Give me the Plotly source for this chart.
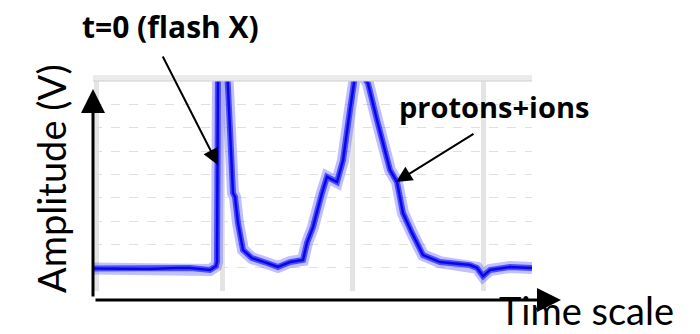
import plotly.graph_objects as go

# Oscilloscope trace (arbitrary time units, amplitude in grid divisions)
time = [0, 27, 57, 82, 97, 117, 123, 124, 125, 134, 140, 142, 145, 150, 159, 174, 185, 197, 210, 214, 220,
        229, 234, 244, 250, 257, 262, 269, 275, 284, 290, 297, 304, 310, 319, 330, 347, 377, 384, 390, 397,
        417, 439]
amplitude = [0.96, 0.96, 0.94, 0.99, 0.99, 0.9, 1.07, 1.25, 9.6, 9.6, 4.2, 4.03, 2.91, 1.76, 1.41, 1.2, 1.03,
             1.24, 1.33, 2.06, 2.74, 4.2, 4.89, 4.67, 5.6, 7.76, 9.2, 9.3, 8.9, 7.33, 6.34, 5.19, 4.67, 3.34,
             2.49, 1.54, 1.24, 1.11, 0.99, 0.64, 0.9, 1.03, 0.99]
v_grid = [3, 129, 259, 390]
h_grid = [1, 2, 3, 4, 5, 6, 7, 8]

L, R, T, B = 93, 532, 81, 291
W, H = 700, 334

def px(x):
    return (x - L) / (R - L)

def py(y):
    return (B - y) / (B - T)

fig = go.Figure()
fig.add_trace(go.Scatter(x=time, y=amplitude, mode="lines",
                         line=dict(color="rgba(90,90,255,0.38)", width=12), hoverinfo="skip"))
fig.add_trace(go.Scatter(x=time, y=amplitude, mode="lines",
                         line=dict(color="rgba(40,40,245,0.75)", width=6), hoverinfo="skip"))
fig.add_trace(go.Scatter(x=time, y=amplitude, mode="lines",
                         line=dict(color="rgba(0,0,235,0.9)", width=2.5), hoverinfo="skip"))

fig.update_layout(
    width=W, height=H,
    margin=dict(l=L, r=W - R, t=T, b=H - B),
    paper_bgcolor="white", plot_bgcolor="white",
    showlegend=False,
    xaxis=dict(range=[0, 439], showticklabels=False, ticks="", zeroline=False, showline=False,
               tickvals=v_grid, showgrid=True, gridcolor="rgba(205,205,205,0.55)", gridwidth=5),
    yaxis=dict(range=[0, 9], showticklabels=False, ticks="", zeroline=False, showline=False,
               tickvals=h_grid, showgrid=True, gridcolor="#e0e0e0", gridwidth=1, griddash="dash"),
)

# gray top bar of scope screen
fig.add_shape(type="rect", xref="paper", yref="paper", x0=0, x1=1, y0=1, y1=py(75),
              fillcolor="#ebebeb", line=dict(width=0), layer="above")
fig.add_shape(type="line", xref="paper", yref="paper", x0=0, x1=1, y0=1, y1=1,
              line=dict(color="#cfcfcf", width=1), layer="above")

# axis arrows
fig.add_annotation(xref="paper", yref="paper", x=px(93), y=py(89), ax=0, ay=298 - 89,
                   showarrow=True, arrowhead=2, arrowsize=1.6, arrowwidth=3, arrowcolor="black", text="")
fig.add_annotation(xref="paper", yref="paper", x=px(561), y=py(300), ax=-(561 - 94), ay=0,
                   showarrow=True, arrowhead=2, arrowsize=1.6, arrowwidth=3, arrowcolor="black", text="")

# pointer arrows
fig.add_annotation(xref="paper", yref="paper", x=px(218), y=py(165), ax=162 - 218, ay=55 - 165,
                   showarrow=True, arrowhead=2, arrowsize=1.6, arrowwidth=2, arrowcolor="black", text="")
fig.add_annotation(xref="paper", yref="paper", x=px(396), y=py(182), ax=475 - 396, ay=133 - 182,
                   showarrow=True, arrowhead=2, arrowsize=1.6, arrowwidth=2, arrowcolor="black", text="")

# texts
fig.add_annotation(xref="paper", yref="paper", x=px(170), y=py(26), text="<b>t=0 (flash X)</b>",
                   xanchor="center", yanchor="middle",
                   showarrow=False, font=dict(family="Open Sans", size=30, color="black"))
fig.add_annotation(xref="paper", yref="paper", x=px(494), y=py(106), text="<b>protons+ions</b>",
                   xanchor="center", yanchor="middle",
                   showarrow=False, font=dict(family="Open Sans", size=29, color="black"))
fig.add_annotation(xref="paper", yref="paper", x=px(586), y=py(334), text="Time scale",
                   xanchor="center", yanchor="bottom", borderpad=0,
                   showarrow=False, font=dict(family="Lato", size=38, color="black"))
fig.add_annotation(xref="paper", yref="paper", x=px(51), y=py(179), text="Amplitude (V)", textangle=-90,
                   xanchor="center", yanchor="middle",
                   showarrow=False, font=dict(family="Lato", size=38, color="black"))

fig.write_html("out.html")
